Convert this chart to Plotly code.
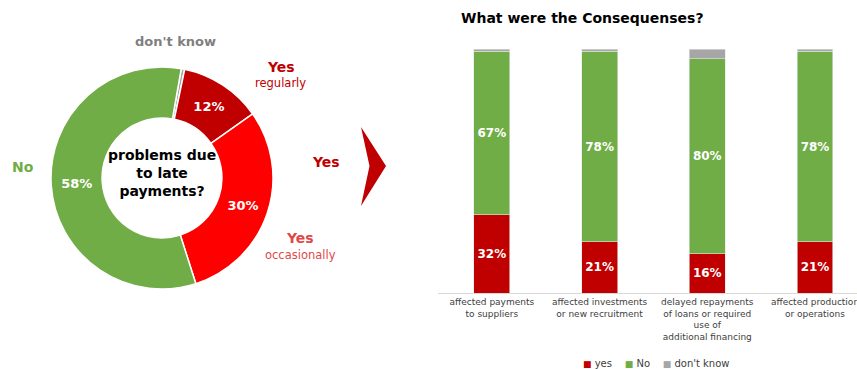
import plotly.graph_objects as go

# ---- Donut: problems due to late payments ----
pie_labels = ["don't know", "Yes regularly", "Yes occasionally", "No"]
pie_values = [0.5, 12, 30, 58]
pie_colors = ["#A6A6A6", "#C00000", "#FF0000", "#70AD47"]

# ---- Stacked bars: consequences ----
categories = [
    "affected payments<br>to suppliers",
    "affected investments<br>or new recruitment",
    "delayed repayments<br>of loans or required<br>use of<br>additional financing",
    "affected production<br>or operations",
]
yes_vals = [32, 21, 16, 21]
no_vals = [67, 78, 80, 78]
dk_vals = [1, 1, 4, 1]

W, H = 857, 369
FONT = "Verdana, DejaVu Sans, sans-serif"


def px(x):
    return x / W


def py(y):
    return 1 - y / H


fig = go.Figure()

# donut
cx, cy, r = 162, 178, 111
pie_text = ["" if lab == "don't know" else f"{v:g}%" for lab, v in zip(pie_labels, pie_values)]
fig.add_trace(go.Pie(
    labels=pie_labels,
    values=pie_values,
    text=pie_text,
    textinfo="text",
    textposition="inside",
    insidetextorientation="horizontal",
    textfont=dict(family=FONT, size=13, color="white", weight="bold"),
    marker=dict(colors=pie_colors, line=dict(color="white", width=1.5)),
    hole=0.54,
    sort=False,
    direction="clockwise",
    rotation=10,
    showlegend=False,
    domain=dict(x=[px(cx - r), px(cx + r)], y=[py(cy + r), py(cy - r)]),
    hoverinfo="label+value",
))

# stacked bars
series = [("yes", yes_vals, "#C00000"), ("No", no_vals, "#70AD47"), ("don't know", dk_vals, "#A6A6A6")]
for name, vals, col in series:
    txt = [f"{v}%" if name != "don't know" else "" for v in vals]
    fig.add_trace(go.Bar(
        x=categories, y=vals, name=name,
        marker=dict(color=col, line=dict(color="#E4E4E4", width=0.6)),
        text=txt, textposition="inside", insidetextanchor="middle",
        textfont=dict(family=FONT, size=12, color="white", weight="bold"),
        width=0.334, showlegend=False,
        xaxis="x", yaxis="y",
    ))

# compact legend line for the bar series
sp = "&nbsp;" * 4
legend_text = sp.join(
    f"<span style='color:{col};font-size:9px'>■</span> {name}" for name, _, col in series
)

annotations = [
    dict(text="<b>problems due<br>to late<br>payments?</b>", x=px(cx), y=py(173), font=dict(size=14, color="black")),
    dict(text="<b>don't know</b>", x=px(175), y=py(41), font=dict(size=13, color="#7F7F7F")),
    dict(text="<b>Yes</b>", x=px(281), y=py(67), font=dict(size=14, color="#C00000")),
    dict(text="regularly", x=px(280), y=py(83), font=dict(size=11.5, color="#C00000")),
    dict(text="<b>No</b>", x=px(23), y=py(167), font=dict(size=14, color="#70AD47")),
    dict(text="<b>Yes</b>", x=px(326), y=py(162), font=dict(size=14, color="#C00000")),
    dict(text="<b>Yes</b>", x=px(300), y=py(238), font=dict(size=14, color="#E04848")),
    dict(text="occasionally", x=px(300), y=py(255), font=dict(size=11.5, color="#E04848")),
    dict(text=legend_text, x=px(656), y=py(363), font=dict(size=10, color="#404040")),
]
for a in annotations:
    a.update(xref="paper", yref="paper", showarrow=False, xanchor="center", yanchor="middle")
    a["font"]["family"] = FONT

# chevron arrow between the two charts
pts = [(361, 127), (386, 166), (361, 206), (369.5, 166)]
path = "M " + " L ".join(f"{px(x):.5f},{py(y):.5f}" for x, y in pts) + " Z"

fig.update_layout(
    width=W, height=H,
    margin=dict(l=0, r=0, t=0, b=0, autoexpand=False),
    paper_bgcolor="white", plot_bgcolor="white",
    font=dict(family=FONT, color="#404040"),
    barmode="stack",
    showlegend=False,
    title=dict(text="<b>What were the Consequenses?</b>", x=px(461), xanchor="left",
               y=py(18), yanchor="middle", font=dict(size=14, color="black", family=FONT)),
    xaxis=dict(domain=[px(438), 1], range=[-0.5, 3.39], type="category",
               categoryorder="array", categoryarray=categories, automargin=False,
               showgrid=False, zeroline=False, showline=True, linecolor="#D9D9D9",
               ticks="", ticklen=0, tickfont=dict(size=9, color="#404040", family=FONT)),
    yaxis=dict(domain=[py(293), py(49)], range=[0, 100], visible=False, showgrid=False,
               automargin=False),
    annotations=annotations,
    shapes=[dict(type="path", path=path, xref="paper", yref="paper",
                 fillcolor="#C00000", line=dict(width=0))],
)

fig.write_html("out.html")
